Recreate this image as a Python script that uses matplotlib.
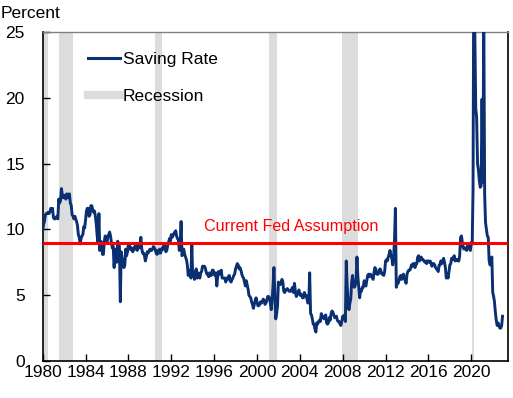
import numpy as np
import pandas as pd
import matplotlib
matplotlib.use('Agg')
import matplotlib.pyplot as plt
import matplotlib.dates as mdates
from matplotlib.lines import Line2D

# Personal saving rate, monthly, 1980-2022 (percent)
saving_rate = [
    # 1980
    9.9, 10.4, 10.6, 11.1, 11.2, 11.2, 11.3, 11.2, 11.3, 11.6, 11.5, 11.6,
    # 1981
    10.9, 10.8, 10.8, 10.9, 11.0, 10.8, 12.3, 12.0, 12.2, 13.1, 12.6, 12.4,
    # 1982
    12.6, 12.4, 12.3, 12.7, 12.5, 12.4, 12.7, 12.0, 11.8, 11.1, 11.0, 10.8,
    # 1983
    11.0, 10.8, 10.6, 10.3, 9.6, 9.4, 8.9, 9.3, 9.5, 9.6, 10.2, 10.1,
    # 1984
    10.7, 11.4, 11.6, 11.6, 11.0, 11.1, 11.8, 11.8, 11.5, 11.3, 11.4, 11.0,
    # 1985
    10.4, 9.5, 9.0, 11.2, 8.4, 9.1, 9.0, 8.1, 8.1, 9.1, 9.5, 9.2,
    # 1986
    9.0, 9.5, 9.6, 9.8, 9.5, 9.0, 8.6, 8.7, 7.1, 8.4, 8.5, 7.5,
    # 1987
    9.1, 8.9, 8.7, 4.5, 8.3, 7.8, 7.5, 7.1, 7.3, 8.5, 8.0, 8.3,
    # 1988
    8.9, 8.9, 8.5, 8.6, 8.4, 8.3, 8.6, 8.5, 8.9, 8.5, 8.4, 8.8,
    # 1989
    8.6, 8.8, 9.4, 8.5, 8.2, 8.2, 8.0, 7.6, 7.9, 8.3, 8.2, 8.3,
    # 1990
    8.5, 8.4, 8.4, 8.5, 8.7, 8.6, 8.5, 8.2, 8.1, 8.4, 8.2, 8.5,
    # 1991
    8.2, 8.4, 8.6, 8.5, 8.9, 8.5, 8.3, 8.4, 8.8, 9.0, 9.3, 9.1,
    # 1992
    9.6, 9.4, 9.5, 9.7, 9.8, 9.9, 9.5, 9.3, 9.2, 8.4, 8.9, 10.6,
    # 1993
    8.0, 8.2, 8.5, 8.1, 7.9, 7.7, 7.3, 6.5, 6.9, 6.9, 6.3, 8.9,
    # 1994
    6.4, 6.8, 6.2, 6.5, 7.0, 6.3, 6.7, 6.5, 6.3, 6.7, 6.8, 7.2,
    # 1995
    7.2, 7.2, 7.1, 6.8, 6.6, 6.6, 6.4, 6.7, 6.5, 6.5, 6.9, 6.9,
    # 1996
    6.6, 6.5, 6.7, 5.7, 6.4, 6.8, 6.6, 6.8, 6.9, 6.3, 6.3, 6.3,
    # 1997
    6.3, 6.0, 6.3, 6.2, 6.4, 6.5, 6.1, 6.0, 6.2, 6.3, 6.5, 6.6,
    # 1998
    7.0, 7.2, 7.4, 7.3, 7.0, 7.1, 6.9, 6.6, 6.4, 6.3, 6.0, 5.7,
    # 1999
    6.1, 5.8, 5.5, 5.0, 4.9, 4.8, 4.5, 4.3, 4.0, 4.3, 4.6, 4.8,
    # 2000
    4.5, 4.2, 4.2, 4.3, 4.5, 4.4, 4.5, 4.7, 4.6, 4.3, 4.4, 4.6,
    # 2001
    4.9, 4.9, 4.8, 4.4, 3.9, 4.7, 5.7, 7.1, 5.0, 3.2, 3.6, 4.2,
    # 2002
    6.0, 5.9, 5.8, 5.9, 6.2, 6.0, 5.3, 5.2, 5.4, 5.4, 5.5, 5.4,
    # 2003
    5.3, 5.3, 5.3, 5.5, 5.6, 5.2, 5.9, 5.3, 4.9, 5.1, 5.2, 5.4,
    # 2004
    5.0, 5.1, 5.0, 4.8, 4.8, 5.2, 5.0, 5.0, 4.7, 4.4, 4.5, 6.7,
    # 2005
    3.6, 3.5, 3.2, 2.8, 2.8, 2.4, 2.2, 2.9, 2.8, 3.0, 3.1, 3.0,
    # 2006
    3.6, 3.3, 3.4, 3.2, 3.4, 3.5, 2.9, 2.8, 2.9, 3.3, 3.1, 3.6,
    # 2007
    3.8, 3.7, 3.5, 3.3, 3.3, 3.4, 3.1, 3.0, 3.0, 2.8, 2.7, 3.0,
    # 2008
    3.4, 3.3, 3.5, 3.0, 7.6, 5.7, 4.4, 3.9, 4.4, 4.7, 6.0, 6.5,
    # 2009
    5.8, 5.6, 5.7, 6.2, 7.9, 6.4, 5.6, 4.8, 5.4, 5.3, 5.6, 5.6,
    # 2010
    6.1, 5.9, 5.7, 6.1, 6.5, 6.6, 6.4, 6.6, 6.5, 6.4, 6.2, 6.7,
    # 2011
    7.1, 7.0, 6.6, 6.6, 6.6, 6.9, 7.0, 6.8, 6.6, 6.6, 6.5, 6.8,
    # 2012
    7.6, 7.7, 7.6, 7.9, 8.1, 8.4, 8.0, 7.8, 7.3, 7.9, 9.2, 11.6,
    # 2013
    5.6, 6.0, 5.9, 6.1, 6.4, 6.5, 6.2, 6.4, 6.6, 6.3, 6.1, 5.9,
    # 2014
    6.6, 6.8, 6.9, 6.9, 7.0, 7.3, 7.2, 7.4, 7.4, 7.1, 7.4, 7.4,
    # 2015
    7.9, 8.0, 7.6, 7.8, 7.9, 7.7, 7.7, 7.6, 7.5, 7.6, 7.4, 7.6,
    # 2016
    7.6, 7.5, 7.6, 7.4, 7.2, 7.4, 7.4, 7.3, 7.1, 7.0, 6.9, 6.8,
    # 2017
    7.3, 7.3, 7.6, 7.4, 7.6, 7.8, 7.5, 7.1, 6.3, 6.6, 6.3, 6.8,
    # 2018
    7.3, 7.4, 7.8, 7.7, 7.9, 8.0, 7.6, 7.7, 7.7, 7.6, 7.6, 8.0,
    # 2019
    9.4, 9.5, 9.0, 8.6, 8.5, 8.6, 8.5, 8.4, 8.8, 8.8, 8.6, 8.4,
    # 2020
    9.0, 8.9, 13.1, 33.8, 24.8, 19.2, 18.5, 15.0, 14.5, 13.7, 13.2, 13.3,
    # 2021
    19.9, 13.6, 26.6, 12.6, 10.5, 10.0, 9.5, 9.4, 7.6, 7.3, 7.5, 7.9,
    # 2022
    5.2, 4.9, 4.5, 3.7, 3.1, 2.7, 2.9, 2.7, 2.5, 2.5, 2.7, 3.4,
]
dates = pd.date_range('1980-01-01', periods=len(saving_rate), freq='MS')

# NBER recessions (start, end)
recessions = [
    ('1980-01-01', '1980-07-01'),
    ('1981-07-01', '1982-11-01'),
    ('1990-07-01', '1991-03-01'),
    ('2001-03-01', '2001-11-01'),
    ('2007-12-01', '2009-06-01'),
    ('2020-02-01', '2020-04-01'),
]

fed_assumption = 9.0
year_ticks = list(range(1980, 2021, 4))

plt.rcParams['font.family'] = ['Liberation Sans', 'DejaVu Sans']
fs = 12.5

navy = '#0a2f73'
red = '#ff0000'
gray = '#dcdcdc'

fig = plt.figure(figsize=(5.13, 3.98), dpi=100)
ax = fig.add_axes([0.0832, 0.093, 0.9068, 0.8266])

for start, end in recessions:
    ax.axvspan(pd.Timestamp(start), pd.Timestamp(end), color=gray, lw=0, zorder=1)

ax.plot(dates, saving_rate, color=navy, lw=2.1, zorder=3)
ax.axhline(fed_assumption, color=red, lw=2.2, zorder=4)
ax.text(pd.Timestamp('2003-03-01'), 10.2, 'Current Fed Assumption', color=red,
        fontsize=11.6, ha='center', va='center', zorder=5)

ax.set_xlim(pd.Timestamp('1980-01-01'), pd.Timestamp('2023-06-01'))
ax.set_ylim(0, 25)
ax.set_yticks([0, 5, 10, 15, 20, 25])
ax.set_xticks([pd.Timestamp(f'{y}-01-01') for y in year_ticks])
ax.xaxis.set_major_formatter(mdates.DateFormatter('%Y'))
ax.tick_params(axis='both', direction='in', length=5, width=1, labelsize=fs,
               colors='black')
ax.tick_params(axis='x', pad=3)
ax.tick_params(axis='y', pad=13)

for side in ['left', 'bottom', 'right']:
    ax.spines[side].set_color('black')
    ax.spines[side].set_linewidth(1.2)
ax.spines['top'].set_color('#808080')
ax.spines['top'].set_linewidth(1)

fig.text(0.002, 0.985, 'Percent', fontsize=fs, ha='left', va='top')

handles = [Line2D([], [], color=navy, lw=2.2),
           Line2D([], [], color=gray, lw=6)]
ax.legend(handles, ['Saving Rate', 'Recession'], loc='upper left',
          bbox_to_anchor=(0.097, 0.94), frameon=False, fontsize=fs,
          handlelength=1.85, handletextpad=0.15, labelspacing=1.25,
          borderpad=0, borderaxespad=0)

fig.savefig('out.png', dpi=100)
